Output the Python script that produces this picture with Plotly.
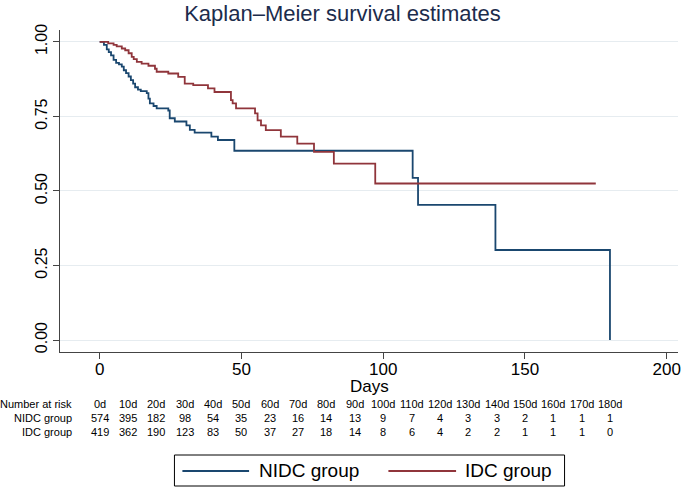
import plotly.graph_objects as go

# ---- Data ----
nidc_days = [0, 1.5, 2.5, 3.2, 4.0, 4.9, 5.8, 6.8, 7.8, 8.5, 9.3, 10.2, 11.0, 11.8, 12.5, 13.5,
             14.5, 16.6, 17.2, 17.7, 19.0, 20.1, 24.2, 24.7, 26.5, 30.6, 31.8, 33.5, 39.4,
             41.7, 47.5, 110.4, 112.3, 139.6, 180.0]
nidc_surv = [1.0, 0.99, 0.975, 0.966, 0.955, 0.94, 0.93, 0.925, 0.917, 0.905, 0.895, 0.884,
             0.872, 0.86, 0.848, 0.84, 0.835, 0.828, 0.81, 0.794, 0.785, 0.777, 0.77, 0.744,
             0.733, 0.72, 0.705, 0.696, 0.682, 0.671, 0.635, 0.544, 0.4535, 0.302, 0.0]

idc_days = [0, 3.0, 4.9, 6.0, 7.8, 9.0, 10.2, 11.3, 12.0, 13.1, 14.8, 17.2, 19.5, 20.1, 24.2,
            27.7, 30.0, 33.0, 38.2, 40.5, 46.3, 46.9, 48.1, 54.8, 55.7, 56.9, 58.6, 63.9,
            69.7, 75.6, 82.6, 97.2, 175.0]
idc_surv = [1.0, 0.995, 0.99, 0.985, 0.978, 0.972, 0.962, 0.95, 0.942, 0.933, 0.927, 0.92,
            0.91, 0.9, 0.894, 0.883, 0.86, 0.855, 0.844, 0.832, 0.805, 0.794, 0.777, 0.76,
            0.737, 0.72, 0.704, 0.682, 0.659, 0.631, 0.592, 0.525, 0.525]

risk_days = [0, 10, 20, 30, 40, 50, 60, 70, 80, 90, 100, 110, 120, 130, 140, 150, 160, 170, 180]
risk_labels = [f"{d}d" for d in risk_days]
nidc_risk = [574, 395, 182, 98, 54, 35, 23, 16, 14, 13, 9, 7, 4, 3, 3, 2, 1, 1, 1]
idc_risk = [419, 362, 190, 123, 83, 50, 37, 27, 18, 14, 8, 6, 4, 2, 2, 1, 1, 1, 0]

group_names = ["NIDC group", "IDC group"]
y_ticks = [0, 0.25, 0.5, 0.75, 1.0]
y_tick_text = ["0.00", "0.25", "0.50", "0.75", "1.00"]
x_ticks = [0, 50, 100, 150, 200]

# ---- Styling ----
BLUE = "#1a476f"
RED = "#90353b"
FONT = "Liberation Sans, Arial, sans-serif"
W, H = 685, 488
ML, MR, MT, MB = 60, 4, 30, 136
PW = W - ML - MR
PH = H - MT - MB


def px_x(px):
    return (px - ML) / PW


def px_y(py):
    return (H - MB - py) / PH


fig = go.Figure()
fig.add_trace(go.Scatter(x=nidc_days, y=nidc_surv, mode="lines", line_shape="hv",
                         line=dict(color=BLUE, width=1.8), name=group_names[0],
                         showlegend=False))
fig.add_trace(go.Scatter(x=idc_days, y=idc_surv, mode="lines", line_shape="hv",
                         line=dict(color=RED, width=1.8), name=group_names[1],
                         showlegend=False))

annotations = []
# x-axis title
annotations.append(dict(x=0.5, y=px_y(386), xref="paper", yref="paper", text="Days",
                        showarrow=False, xanchor="center", yanchor="middle",
                        font=dict(family=FONT, size=17, color="#000")))
# Number at risk table
row_y = [px_y(404), px_y(418), px_y(432)]
row_names = ["Number at risk", group_names[0], group_names[1]]
for ry, name in zip(row_y, row_names):
    annotations.append(dict(x=px_x(74), y=ry, xref="paper", yref="paper", text=name,
                            showarrow=False, xanchor="right", yanchor="middle",
                            font=dict(family=FONT, size=11, color="#000")))
for d, lab, n1, n2 in zip(risk_days, risk_labels, nidc_risk, idc_risk):
    for ry, t in zip(row_y, [lab, str(n1), str(n2)]):
        annotations.append(dict(x=d, y=ry, xref="x", yref="paper", text=t,
                                showarrow=False, xanchor="center", yanchor="middle",
                                font=dict(family=FONT, size=11, color="#000")))

# Legend (drawn box)
shapes = [
    dict(type="rect", xref="paper", yref="paper", x0=px_x(175), x1=px_x(567),
         y0=px_y(486), y1=px_y(455), line=dict(color="#000", width=1), fillcolor="white"),
    dict(type="line", xref="paper", yref="paper", x0=px_x(183), x1=px_x(250),
         y0=px_y(471), y1=px_y(471), line=dict(color=BLUE, width=1.8)),
    dict(type="line", xref="paper", yref="paper", x0=px_x(390), x1=px_x(458),
         y0=px_y(471), y1=px_y(471), line=dict(color=RED, width=1.8)),
]
annotations.append(dict(x=px_x(258), y=px_y(471), xref="paper", yref="paper",
                        text=group_names[0], showarrow=False, xanchor="left",
                        yanchor="middle", font=dict(family=FONT, size=19, color="#000")))
annotations.append(dict(x=px_x(465), y=px_y(471), xref="paper", yref="paper",
                        text=group_names[1], showarrow=False, xanchor="left",
                        yanchor="middle", font=dict(family=FONT, size=19, color="#000")))

fig.update_layout(
    width=W, height=H,
    margin=dict(l=ML, r=MR, t=MT, b=MB),
    paper_bgcolor="white", plot_bgcolor="white",
    title=dict(text="Kaplan\u2013Meier survival estimates", x=0.5, xref="container",
               xanchor="center", y=1 - 13 / H, yanchor="middle", yref="container",
               font=dict(family=FONT, size=22, color="#1c2c4c")),
    font=dict(family=FONT, color="#000"),
    annotations=annotations,
    shapes=shapes,
    showlegend=False,
)
fig.update_xaxes(range=[-14.0, 204.0], tickvals=x_ticks, ticks="outside", ticklen=6,
                 tickcolor="#444", showline=True, linecolor="#444", linewidth=1,
                 showgrid=False, zeroline=False, tickfont=dict(size=17, family=FONT),
                 ticklabelstandoff=-4)
fig.update_yaxes(range=[-0.0402, 1.04], tickvals=y_ticks, ticktext=y_tick_text,
                 ticks="outside", ticklen=6, tickcolor="#444", showline=True,
                 linecolor="#444", linewidth=1, showgrid=True, gridcolor="#e6ecf0",
                 gridwidth=1, zeroline=False, tickangle=-90,
                 tickfont=dict(size=16, family=FONT))

fig.write_html("out.html",
               config={"displayModeBar": False},
               post_script="document.body.style.margin='0px';document.body.style.padding='0px';")
